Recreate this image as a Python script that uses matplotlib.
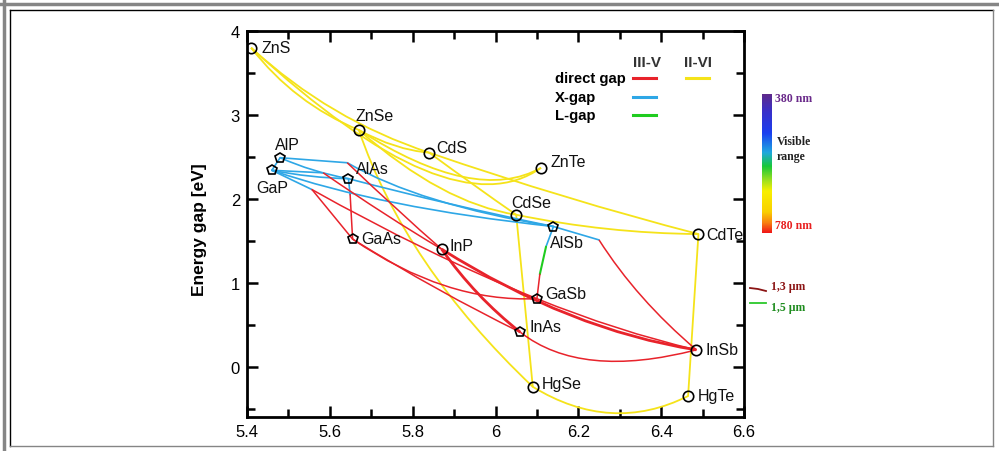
import matplotlib
matplotlib.use("Agg")
import matplotlib.pyplot as plt
from matplotlib.path import Path
from matplotlib.patches import PathPatch
from matplotlib.lines import Line2D
from matplotlib.colors import LinearSegmentedColormap
from matplotlib.ticker import MultipleLocator, FuncFormatter
import numpy as np

plt.rcParams['font.family'] = ['Liberation Sans', 'DejaVu Sans']

# compounds: lattice constant [A] and energy gap [eV]
compounds = ['ZnS', 'ZnSe', 'CdS', 'ZnTe', 'CdSe', 'CdTe', 'HgSe', 'HgTe',
             'AlP', 'GaP', 'AlAs', 'GaAs', 'InP', 'AlSb', 'GaSb', 'InAs', 'InSb']
lattice = [5.41, 5.67, 5.84, 6.11, 6.05, 6.49, 6.09, 6.465,
           5.48, 5.46, 5.645, 5.655, 5.87, 6.14, 6.10, 6.06, 6.485]
energy_gap = [3.80, 2.82, 2.55, 2.37, 1.81, 1.58, -0.24, -0.35,
              2.49, 2.34, 2.24, 1.52, 1.40, 1.67, 0.81, 0.41, 0.20]
pentagon_markers = ['AlP', 'GaP', 'AlAs', 'GaAs', 'AlSb', 'GaSb', 'InAs']

# points where a ternary curve changes gap type (lattice, gap)
kinks = {
    'k_AlP': (5.642, 2.43),
    'k_GaP1': (5.557, 2.11),
    'k_GaP2': (5.584, 2.31),
    'k_AlAs': (5.649, 2.05),
    'k_AlSb1': (6.122, 1.43),
    'k_AlSb2': (6.107, 1.10),
    'k_AlSb3': (6.250, 1.51),
}

# curves: (start, end, bend control point or None)
ii_vi_curves = [
    ('ZnS', 'ZnSe', (5.514, 3.137)),
    ('ZnS', 'CdS', (5.600, 2.940)),
    ('ZnS', 'ZnTe', (5.892, 1.607)),
    ('ZnSe', 'ZnTe', (5.952, 1.929)),
    ('ZnSe', 'CdS', (5.758, 2.583)),
    ('CdS', 'CdTe', (6.170, 1.988)),
    ('CdS', 'CdSe', (5.952, 2.143)),
    ('ZnSe', 'CdSe', (5.871, 1.946)),
    ('CdSe', 'CdTe', (6.269, 1.589)),
    ('CdSe', 'HgSe', None),
    ('CdTe', 'HgTe', None),
    ('HgSe', 'HgTe', (6.279, -0.810)),
    ('ZnSe', 'HgSe', (5.781, 1.208)),
]
x_gap_curves = [
    ('AlP', 'GaP', None),
    ('AlP', 'AlAs', (5.557, 2.321)),
    ('GaP', 'AlAs', (5.553, 2.250)),
    ('AlP', 'k_AlP', None),
    ('k_AlP', 'AlSb', (5.819, 1.929)),
    ('GaP', 'k_GaP1', None),
    ('GaP', 'k_GaP2', None),
    ('AlAs', 'k_AlAs', None),
    ('AlAs', 'AlSb', (5.894, 1.917)),
    ('GaP', 'AlSb', (5.722, 1.893)),
    ('AlSb', 'k_AlSb1', None),
    ('AlSb', 'k_AlSb3', None),
]
l_gap_curves = [
    ('k_AlSb1', 'k_AlSb2', None),
]
direct_curves = [
    ('k_AlSb2', 'GaSb', None),
    ('k_AlSb3', 'InSb', (6.341, 0.804)),
    ('k_GaP1', 'GaAs', None),
    ('k_AlAs', 'GaAs', None),
    ('k_AlP', 'InP', (5.766, 1.845)),
    ('k_GaP2', 'InP', (5.734, 1.798)),
    ('k_GaP1', 'GaSb', (5.830, 1.351)),
    ('GaSb', 'InSb', (6.293, 0.423)),
    ('GaAs', 'GaSb', (5.879, 0.762)),
    ('GaAs', 'InAs', (5.860, 0.893)),
    ('InAs', 'InSb', (6.206, -0.155)),
]
direct_thick_curves = [
    ('InP', 'InAs', (5.951, 0.833)),
    ('InP', 'InSb', (6.180, 0.435)),
]

# label offsets in pixels (text left edge, text centre)
label_offsets = {
    'ZnS': (10, 0), 'ZnSe': (-3, 15), 'CdS': (7, 5), 'ZnTe': (9, 6),
    'CdSe': (-5, 12), 'CdTe': (8, 0), 'HgSe': (9, 3), 'HgTe': (10, 1),
    'AlP': (-5, 13), 'GaP': (-16, -17), 'AlAs': (7, 10), 'GaAs': (9, 1),
    'InP': (8, 4), 'AlSb': (-4, -16), 'GaSb': (8, 5), 'InAs': (9, 6),
    'InSb': (9, 0),
}

RED = '#E8232B'
BLUE = '#2EA7E6'
GREEN = '#1FCC1F'
YELLOW = '#F5E31A'

W, H = 999, 452
fig = plt.figure(figsize=(W / 100, H / 100), dpi=100)


def fx(px):
    return px / W


def fy(py):
    return 1 - py / H


ax = fig.add_axes([fx(247), fy(418), fx(744) - fx(247), fy(32) - fy(418)])

points = {name: (a, e) for name, a, e in zip(compounds, lattice, energy_gap)}
points.update(kinks)


def draw_curve(p0, p1, bend, color, lw):
    a = points[p0]
    b = points[p1]
    if bend is None:
        ax.plot([a[0], b[0]], [a[1], b[1]], color=color, lw=lw, zorder=2,
                solid_capstyle='round')
    else:
        path = Path([a, bend, b], [Path.MOVETO, Path.CURVE3, Path.CURVE3])
        ax.add_patch(PathPatch(path, fill=False, edgecolor=color, lw=lw,
                               zorder=2))


for s, e, c in ii_vi_curves:
    draw_curve(s, e, c, YELLOW, 1.3)
for s, e, c in x_gap_curves:
    draw_curve(s, e, c, BLUE, 1.2)
for s, e, c in l_gap_curves:
    draw_curve(s, e, c, GREEN, 1.5)
for s, e, c in direct_curves:
    draw_curve(s, e, c, RED, 1.1)
for s, e, c in direct_thick_curves:
    draw_curve(s, e, c, RED, 2.0)

for name, a, e in zip(compounds, lattice, energy_gap):
    mk = 'p' if name in pentagon_markers else 'o'
    ax.plot(a, e, marker=mk, ms=7.5, mfc='none', mec='black', mew=1.2,
            zorder=4)
    dx, dy = label_offsets[name]
    ax.annotate(name, (a, e), xytext=(dx, dy), textcoords='offset pixels',
                ha='left', va='center', fontsize=11.5, color='#111111',
                zorder=5)

ax.set_xlim(5.4, 6.6)
ax.set_ylim(-0.6, 4.0)
ax.xaxis.set_major_locator(MultipleLocator(0.2))
ax.xaxis.set_minor_locator(MultipleLocator(0.1))
ax.yaxis.set_major_locator(MultipleLocator(1))
ax.yaxis.set_minor_locator(MultipleLocator(0.5))
fmt = FuncFormatter(lambda v, p: '%g' % round(v, 2))
ax.xaxis.set_major_formatter(fmt)
ax.yaxis.set_major_formatter(fmt)
ax.tick_params(which='both', direction='in', top=True, right=True,
               width=1.8, labelsize=12, colors='black')
ax.tick_params(which='major', length=8, pad=5)
ax.tick_params(which='minor', length=6)
for sp in ax.spines.values():
    sp.set_linewidth(2.0)

ax.set_ylabel('Energy gap [eV]', fontsize=12.5, fontweight='bold')
ax.yaxis.set_label_coords(-0.08, 0.487)

# legend drawn by hand
fig.text(fx(647), fy(63), 'III-V', ha='center', va='center', fontsize=11,
         fontweight='bold', color='#333333')
fig.text(fx(698), fy(63), 'II-VI', ha='center', va='center', fontsize=11,
         fontweight='bold', color='#333333')
legend_rows = [('direct gap', 79, RED), ('X-gap', 98, BLUE), ('L-gap', 116, GREEN)]
for label, py, col in legend_rows:
    fig.text(fx(555), fy(py), label, ha='left', va='center', fontsize=10.7,
             fontweight='bold')
    fig.add_artist(Line2D([fx(633), fx(656)], [fy(py), fy(py)], color=col,
                          lw=2.2))
fig.add_artist(Line2D([fx(686), fx(709)], [fy(79), fy(79)], color=YELLOW,
                      lw=2.2))

# visible range colour bar
spec = LinearSegmentedColormap.from_list('visible', [
    (0.0, '#5E2A8C'), (0.12, '#3A2FC8'), (0.28, '#1A3FF0'),
    (0.42, '#1FA8E0'), (0.52, '#18C838'), (0.62, '#9BE020'),
    (0.70, '#F8F000'), (0.85, '#FAD000'), (0.93, '#F88010'),
    (1.0, '#F01818')])
cax = fig.add_axes([fx(762), fy(234), fx(772) - fx(762), fy(95) - fy(234)])
cax.imshow(np.linspace(0, 1, 200).reshape(-1, 1), cmap=spec, aspect='auto')
cax.set_axis_off()

serif = ['Liberation Serif', 'DejaVu Serif']
fig.text(fx(775), fy(99), '380 nm', ha='left', va='center', fontsize=8.5,
         fontweight='bold', family=serif, color='#6A2A8A')
fig.text(fx(777), fy(142), 'Visible', ha='left', va='center', fontsize=8.5,
         fontweight='bold', family=serif, color='#222222')
fig.text(fx(777), fy(157), 'range', ha='left', va='center', fontsize=8.5,
         fontweight='bold', family=serif, color='#222222')
fig.text(fx(775), fy(226), '780 nm', ha='left', va='center', fontsize=8.5,
         fontweight='bold', family=serif, color='#E82020')
fig.text(fx(771), fy(287), '1,3 µm', ha='left', va='center', fontsize=8.5,
         fontweight='bold', family=serif, color='#8B1414')
fig.text(fx(771), fy(308), '1,5 µm', ha='left', va='center', fontsize=8.5,
         fontweight='bold', family=serif, color='#1E8C1E')
fig.add_artist(Line2D([fx(750), fx(758), fx(766)], [fy(289), fy(290), fy(292)],
                      color='#8B1414', lw=1.3))
fig.add_artist(Line2D([fx(750), fx(766)], [fy(304), fy(304)],
                      color='#2BC82B', lw=1.3))

# page border
fig.add_artist(Line2D([0, 1], [fy(4.5), fy(4.5)], color='#858585', lw=2.5))
fig.add_artist(Line2D([fx(3.5), fx(3.5)], [0, 1], color='#858585', lw=2.5))
fig.add_artist(Line2D([fx(10), fx(993)], [fy(11), fy(11)], color='black', lw=1.0))
fig.add_artist(Line2D([fx(10), fx(10)], [fy(11), fy(447)], color='black', lw=1.0))
fig.add_artist(Line2D([fx(993), fx(993)], [fy(11), fy(447)], color='#858585', lw=1.0))
fig.add_artist(Line2D([fx(10), fx(993)], [fy(447), fy(447)], color='#858585', lw=1.0))

fig.savefig('out.png', dpi=100)
